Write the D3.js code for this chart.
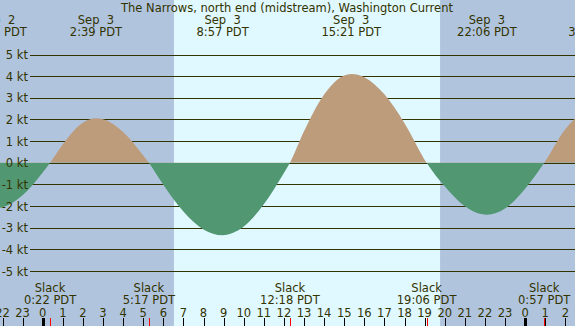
<!DOCTYPE html>
<html><head><meta charset="utf-8">
<script src="https://cdn.jsdelivr.net/npm/d3@7"></script>
<style>html,body{margin:0;padding:0;background:#b0c4de;}svg{display:block;}</style>
</head><body><svg id="c" width="575" height="326"></svg>
<script>
// hourly readings of the current (kt), hours relative to 00:00 Sep 3
const hours = [-3,-2,-1,0,1,2,3,4,5,6,7,8,9,10,11,12,13,14,15,16,17,18,19,20,21,22,23,24,25,26,27];
const current = [-1.95,-2.06,-1.50,-0.45,0.86,1.85,2.01,1.42,0.34,-1.02,-2.25,-3.08,-3.35,-2.95,-1.92,-0.47,1.45,3.15,4.03,3.95,3.16,1.83,0.17,-1.09,-2.01,-2.40,-2.11,-1.20,0.08,1.55,2.35];
// max current events
const maxHours = [-2.27,2.65,8.95,15.35,22.1,27.45];
const maxValues = [-2.1,2.05,-3.35,4.1,-2.4,2.4];
const maxDates = ["Sep  2","Sep  3","Sep  3","Sep  3","Sep  3","Sep  4"];
const maxTimes = ["21:44 PDT","2:39 PDT","8:57 PDT","15:21 PDT","22:06 PDT","3:27 PDT"];
// slack events
const slackHours = [0.367,5.283,12.3,19.1,24.95];
const slackTimes = ["0:22 PDT","5:17 PDT","12:18 PDT","19:06 PDT","0:57 PDT"];
// sun
const sunrise = 6.53, sunset = 19.77;
const ktTicks = [5,4,3,2,1,0,-1,-2,-3,-4,-5];
const hourTicks = d3.range(-2,27);
const title = "The Narrows, north end (midstream), Washington Current";

const W=575,H=326;
const svg=d3.select("#c");
const x=d3.scaleLinear().domain([0,24]).range([42.7,525.1]);
const y=d3.scaleLinear().domain([-5,5]).range([271,54.5]);
const ink="#333300", font="DejaVu Sans";

svg.append("rect").attr("width",W).attr("height",H).attr("fill","#b0c4de");
svg.append("rect").attr("x",x(sunrise)).attr("y",0).attr("width",x(sunset)-x(sunrise)).attr("height",H).attr("fill","#e0f8ff");

// grid lines
svg.append("g").selectAll("line").data(ktTicks).join("line")
  .attr("x1",30).attr("x2",W).attr("y1",d=>Math.round(y(d))+0.5).attr("y2",d=>Math.round(y(d))+0.5)
  .attr("stroke",ink).attr("stroke-width",1);

// merged points: hourly readings plus event points
const pts=[];
hours.forEach((h,i)=>pts.push({h:h,v:current[i],ev:false}));
maxHours.forEach((h,i)=>pts.push({h:h,v:maxValues[i],ev:true}));
slackHours.forEach(h=>pts.push({h:h,v:0,ev:true}));
pts.sort((a,b)=>a.h-b.h);
const data=[];
pts.forEach(p=>{
  const last=data[data.length-1];
  if(last && Math.abs(p.h-last.h)<0.2){ if(p.ev && !last.ev) data[data.length-1]=p; }
  else data.push(p);
});

const area=d3.area().x(d=>x(d.h)).y0(y(0)).y1(d=>y(d.v)).curve(d3.curveMonotoneX);
const defs=svg.append("defs");
defs.append("clipPath").attr("id","up").append("rect").attr("x",0).attr("y",0).attr("width",W).attr("height",y(0));
defs.append("clipPath").attr("id","dn").append("rect").attr("x",0).attr("y",y(0)).attr("width",W).attr("height",H);
svg.append("path").datum(data).attr("d",area).attr("fill","#bd9c7c").attr("clip-path","url(#up)");
svg.append("path").datum(data).attr("d",area).attr("fill","#519772").attr("clip-path","url(#dn)");

// kt labels
svg.append("g").selectAll("text").data(ktTicks).join("text")
  .attr("x",28).attr("y",d=>y(d)+4.5).attr("text-anchor","end")
  .attr("font-family",font).attr("font-size",11.5).attr("fill",ink)
  .text(d=>d+" kt");

// title
svg.append("text").attr("x",287).attr("y",12).attr("text-anchor","middle")
  .attr("font-family",font).attr("font-size",11.5).attr("fill",ink).text(title);

// max labels
const mg=svg.append("g").attr("font-family",font).attr("font-size",11.5).attr("fill",ink).attr("text-anchor","middle");
maxHours.forEach((h,i)=>{
  mg.append("text").attr("x",x(h)).attr("y",24).text(maxDates[i]).style("white-space","pre");
  mg.append("text").attr("x",x(h)).attr("y",36).text(maxTimes[i]);
});
// slack labels
const sg=svg.append("g").attr("font-family",font).attr("font-size",11.5).attr("fill",ink).attr("text-anchor","middle");
slackHours.forEach((h,i)=>{
  sg.append("text").attr("x",x(h)).attr("y",292).text("Slack");
  sg.append("text").attr("x",x(h)).attr("y",304).text(slackTimes[i]);
});

// hour axis
const hg=svg.append("g");
hg.selectAll("text").data(hourTicks).join("text")
  .attr("x",d=>x(d)).attr("y",317).attr("text-anchor","middle")
  .attr("font-family",font).attr("font-size",11.5).attr("fill",ink)
  .text(d=>((d%24)+24)%24);
hg.selectAll("line.h").data(hourTicks).join("line").attr("class","h")
  .attr("x1",d=>Math.round(x(d))+0.5).attr("x2",d=>Math.round(x(d))+0.5)
  .attr("y1",318).attr("y2",H).attr("stroke","#000")
  .attr("stroke-width",d=>(((d%24)+24)%24)===0?3:1);
hg.selectAll("line.s").data(slackHours).join("line").attr("class","s")
  .attr("x1",d=>Math.round(x(d))+0.5).attr("x2",d=>Math.round(x(d))+0.5)
  .attr("y1",318).attr("y2",H).attr("stroke","#ff0000").attr("stroke-width",1);
</script></body></html>
